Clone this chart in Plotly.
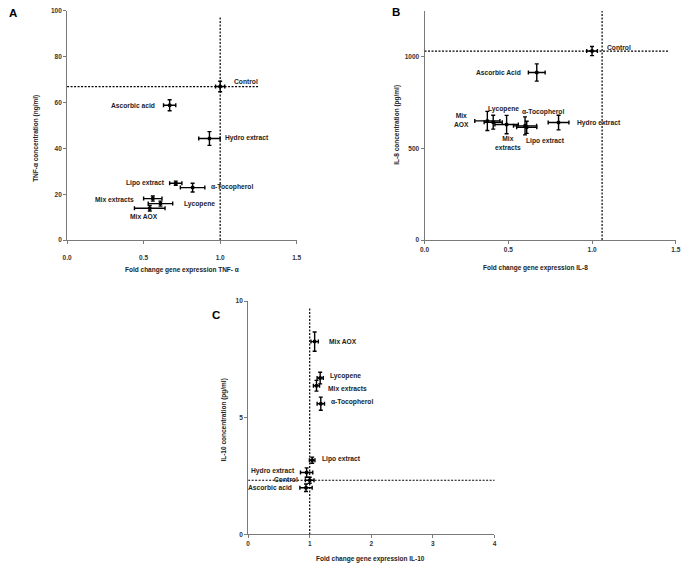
import plotly.graph_objects as go

# ---------------- data ----------------
A_names = ["Control", "Ascorbic acid", "Hydro extract", "Lipo extract", "α-Tocopherol", "Mix extracts", "Lycopene", "Mix AOX"]
A_x = [1.00, 0.67, 0.93, 0.71, 0.82, 0.56, 0.61, 0.54]
A_xerr = [0.03, 0.04, 0.07, 0.04, 0.08, 0.06, 0.08, 0.10]
A_y = [67, 58.8, 44.3, 24.8, 22.9, 18.1, 15.9, 13.9]
A_yerr = [2.3, 2.4, 3.0, 0.9, 1.9, 1.1, 1.1, 1.2]
A_ref_x, A_ref_y = 1.0, 67

B_names = ["Control", "Ascorbic Acid", "Hydro extract", "Mix<br>AOX", "Lycopene", "Mix<br>extracts", "α-Tocopherol", "Lipo extract"]
B_x = [1.00, 0.67, 0.80, 0.375, 0.41, 0.49, 0.60, 0.61]
B_xerr = [0.032, 0.05, 0.062, 0.075, 0.054, 0.07, 0.069, 0.06]
B_y = [1031, 914, 641, 650, 643, 630, 623, 615]
B_yerr = [25, 47, 40, 52, 38, 50, 49, 33]
B_ref_x, B_ref_y = 1.06, 1031

C_names = ["Mix AOX", "Lycopene", "Mix extracts", "α-Tocopherol", "Lipo extract", "Hydro extract", "Control", "Ascorbic acid"]
C_x = [1.08, 1.17, 1.11, 1.18, 1.04, 0.95, 1.00, 0.94]
C_xerr = [0.06, 0.05, 0.05, 0.06, 0.045, 0.10, 0.07, 0.10]
C_y = [8.26, 6.7, 6.37, 5.6, 3.18, 2.65, 2.32, 2.0]
C_yerr = [0.41, 0.25, 0.23, 0.28, 0.13, 0.2, 0.13, 0.16]
C_ref_x, C_ref_y = 1.0, 2.32

A_xticks = [0.0, 0.5, 1.0, 1.5]
A_yticks = [0, 20, 40, 60, 80, 100]
B_xticks = [0.0, 0.5, 1.0, 1.5]
B_yticks = [0, 500, 1000]
C_xticks = [0, 1, 2, 3, 4]
C_yticks = [0, 5, 10]

# ---------------- layout helpers ----------------
W, H = 689, 569
FONT = "Liberation Sans, Arial, sans-serif"

def px(xp):
    return xp / W

def py(yp):
    return 1 - yp / H

# label placement: (x, y in data units, anchor)
A_lab = [(1.08, 69.3, "left"), (0.59, 58.8, "right"), (1.02, 44.5, "left"), (0.65, 25.1, "right"),
         (0.925, 23.1, "left"), (0.45, 17.9, "right"), (0.75, 15.8, "left"), (0.50, 10.3, "center")]
B_lab = [(1.08, 1049, "left"), (0.59, 914, "right"), (0.90, 640, "left"), (0.22, 655, "center"),
         (0.47, 716, "center"), (0.50, 528, "center"), (0.71, 700, "center"), (0.72, 540, "center")]
C_lab = [(1.28, 8.26, "left"), (1.29, 6.8, "left"), (1.26, 6.26, "left"), (1.31, 5.66, "left"),
         (1.16, 3.23, "left"), (0.80, 2.7, "right"), (0.84, 2.37, "right"), (0.75, 1.99, "right")]

fig = go.Figure()

panels = [
    ("x", "y", A_names, A_x, A_xerr, A_y, A_yerr, A_lab),
    ("x2", "y2", B_names, B_x, B_xerr, B_y, B_yerr, B_lab),
    ("x3", "y3", C_names, C_x, C_xerr, C_y, C_yerr, C_lab),
]

annotations = []
for xa, ya, names, xs, xe, ys, ye, labs in panels:
    fig.add_trace(go.Scatter(
        x=xs, y=ys, xaxis=xa, yaxis=ya, mode="markers",
        marker=dict(color="black", size=4),
        error_x=dict(type="data", array=xe, color="black", thickness=1.4, width=2),
        error_y=dict(type="data", array=ye, color="black", thickness=1.4, width=2),
        showlegend=False, hoverinfo="skip",
    ))
    for n, (lx, ly, anc) in zip(names, labs):
        annotations.append(dict(x=lx, y=ly, xref=xa, yref=ya, text=n, showarrow=False,
                                xanchor=anc, yanchor="middle",
                                font=dict(family=FONT, size=6.7, color="#222", weight="bold")))

# dashed reference lines
shapes = []
dash = "2px,1.5px"
refs = [
    ("x", "y", A_ref_x, A_ref_y, 1.25, 97.5),
    ("x2", "y2", B_ref_x, B_ref_y, 1.46, 1250),
    ("x3", "y3", C_ref_x, C_ref_y, 4.05, 9.7),
]
for xa, ya, rx, ry, xend, yend in refs:
    shapes.append(dict(type="line", xref=xa, yref=ya, x0=0, x1=xend, y0=ry, y1=ry,
                       line=dict(color="black", width=1.2, dash=dash)))
    shapes.append(dict(type="line", xref=xa, yref=ya, x0=rx, x1=rx, y0=0, y1=yend,
                       line=dict(color="black", width=1.2, dash=dash)))

tickfont = dict(family=FONT, size=6.5, color="#333", weight="bold")
axis_common = dict(showline=True, linecolor="#7a7a7a", linewidth=1, ticks="outside",
                   ticklen=3, tickcolor="#7a7a7a", showgrid=False, zeroline=False,
                   tickfont=tickfont, fixedrange=True)

fig.update_layout(
    width=W, height=H, margin=dict(l=0, r=0, t=0, b=0),
    paper_bgcolor="white", plot_bgcolor="white",
    xaxis=dict(domain=[px(63), px(296)], range=[0, 1.5], tickvals=A_xticks, tickformat=".1f",
               anchor="y", ticklabelstandoff=8, **axis_common),
    yaxis=dict(domain=[py(239), py(7)], range=[0, 100], tickvals=A_yticks, anchor="x", **axis_common),
    xaxis2=dict(domain=[px(425.7), px(680.7)], range=[0, 1.5], tickvals=B_xticks, tickformat=".1f",
                anchor="y2", **axis_common),
    yaxis2=dict(domain=[py(239), py(7)], range=[0, 1250], tickvals=B_yticks, anchor="x2", **axis_common),
    xaxis3=dict(domain=[px(246.7), px(496.7)], range=[0, 4], tickvals=C_xticks, anchor="y3", **axis_common),
    yaxis3=dict(domain=[py(537), py(300.7)], range=[0, 10], tickvals=C_yticks, anchor="x3", **axis_common),
    shapes=shapes,
)

titlefont = dict(family=FONT, size=6.5, color="#222", weight="bold")
axis_titles = [
    ("Fold change gene expression TNF- α", 180, 269, 0),
    ("TNF-α concentration (ng/ml)", 32, 136, -90),
    ("Fold change gene expression IL-8", 538, 267, 0),
    ("IL-8 concentration (pg/ml)", 398, 122, -90),
    ("Fold change gene expression IL-10", 371, 562, 0),
    ("IL-10 concentration (pg/ml)", 222, 421, -90),
]
for t, x, y, ang in axis_titles:
    annotations.append(dict(x=px(x), y=py(y), xref="paper", yref="paper", text=t, showarrow=False,
                            xanchor="center", yanchor="middle", textangle=ang, font=titlefont))

letters = [("A", 8, 9), ("B", 397, 8), ("C", 214, 315)]
for t, x, y in letters:
    annotations.append(dict(x=px(x), y=py(y), xref="paper", yref="paper", text=t, showarrow=False,
                            xanchor="center", yanchor="middle",
                            font=dict(family=FONT, size=11.5, color="black", weight="bold")))

fig.update_layout(annotations=annotations)
fig.write_html("out.html", config={"displayModeBar": False},
               post_script="document.body.style.margin='0';document.body.style.padding='0';"
                           "document.body.style.overflow='hidden';")
